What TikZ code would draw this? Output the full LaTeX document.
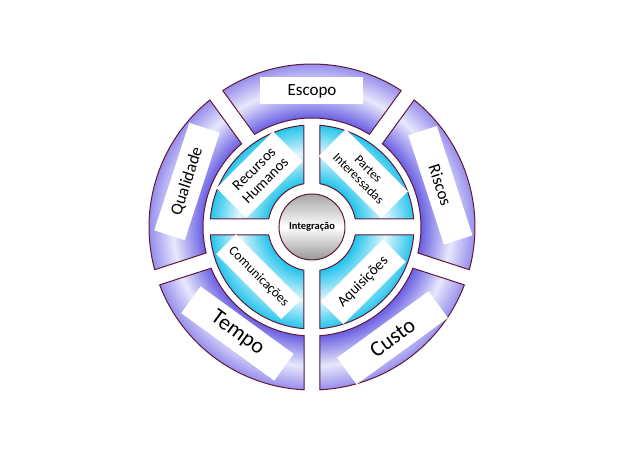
\documentclass[tikz,border=0pt]{standalone}
\usepackage{fontspec}
\setmainfont{Carlito}
\definecolor{purp}{RGB}{104,94,226}
\definecolor{purpmid}{RGB}{150,142,236}
\definecolor{purplight}{RGB}{232,232,252}
\definecolor{cy}{RGB}{38,196,236}
\definecolor{cylight}{RGB}{225,247,253}
\definecolor{bord}{RGB}{95,25,55}
\definecolor{gtop}{RGB}{165,165,165}
\definecolor{gbot}{RGB}{150,150,150}
\pgfdeclareradialshading{cyanring}{\pgfpointorigin}{color(0bp)=(cy); color(11bp)=(cy); color(18bp)=(cylight); color(25bp)=(cy); color(50bp)=(cy)}
\pgfdeclareradialshading{purpring}{\pgfpointorigin}{color(0bp)=(purp); color(16.7bp)=(purp); color(21.3bp)=(purplight); color(25bp)=(purpmid); color(50bp)=(purpmid)}
\begin{document}
\begin{tikzpicture}[x=1pt,y=1pt,
  sector/.style n args={6}{insert path={({#1+#5}:#3) -- ({#1+#6}:#4) arc[start angle={#1+#6}, end angle={#2-#6}, radius=#4] -- ({#2-#5}:#3) arc[start angle={#2-#5}, end angle={#1+#5}, radius=#3] -- cycle}},
  ring/.style 2 args={sector={#1}{#2}{109}{163}{\oI}{\oO}},
  quad/.style 2 args={sector={#1}{#2}{44}{102}{\qI}{\qO}},
  edge/.style={draw=bord, line width=1pt},
  wbox/.style={fill=white, inner sep=0pt, align=center},
  outtxt/.style={wbox, font=\fontsize{17}{19}\selectfont},
  bigtxt/.style={wbox, font=\fontsize{22}{24}\selectfont},
]
\useasboundingbox (-312,-246) rectangle (318,227);
\pgfmathsetmacro\oI{asin(8/109)}
\pgfmathsetmacro\oO{asin(8/163)}
\pgfmathsetmacro\qI{asin(8/44)}
\pgfmathsetmacro\qO{asin(8/102)}
% outer ring
\begin{scope}
\clip[ring={54}{126}, ring={126}{198}, ring={198}{270}, ring={270}{342}, ring={342}{414}];
\shade[shading=purpring] (0,0) circle[radius=163];
\end{scope}
\draw[edge, ring={54}{126}, ring={126}{198}, ring={198}{270}, ring={270}{342}, ring={342}{414}];
% cyan quadrants
\begin{scope}
\clip[quad={0}{90}, quad={90}{180}, quad={180}{270}, quad={270}{360}];
\shade[shading=cyanring] (0,0) circle[radius=102];
\end{scope}
\draw[edge, quad={0}{90}, quad={90}{180}, quad={180}{270}, quad={270}{360}];
% centre
\node[circle, minimum size=66pt, edge, top color=gtop, bottom color=gbot, middle color=white, font=\bfseries\fontsize{10.5}{12}\selectfont] (integ) at (0,0) {Integração};
% outer labels
\node[outtxt, minimum width=103pt, minimum height=27pt] (escopo) at (90:136) {Escopo};
\node[outtxt, minimum width=115pt, minimum height=30pt, rotate=-72] (riscos) at (18:135) {Riscos};
\node[outtxt, minimum width=113pt, minimum height=32pt, rotate=72] (qualidade) at (160:133) {Qualidade};
\node[bigtxt, minimum width=113pt, minimum height=33pt, rotate=36] (custo) at (-54:137) {Custo};
\node[bigtxt, minimum width=115pt, minimum height=33pt, rotate=-36] (tempo) at (-125:130) {Tempo};
% inner labels
\node[wbox, minimum width=80pt, minimum height=42pt, rotate=45, font=\fontsize{15}{16}\selectfont] (rh) at (135:74) {Recursos\\Humanos};
\node[wbox, minimum width=88pt, minimum height=38pt, rotate=-45, font=\fontsize{13}{14}\selectfont] (pi) at (46:74) {Partes\\Interessadas};
\node[wbox, minimum width=92pt, minimum height=28pt, rotate=-45, font=\fontsize{13.5}{15}\selectfont] (com) at (-137:73) {Comunicações};
\node[wbox, minimum width=88pt, minimum height=32pt, rotate=45, font=\fontsize{15}{16}\selectfont] (aq) at (-47:75) {Aquisições};
\end{tikzpicture}
\end{document}
